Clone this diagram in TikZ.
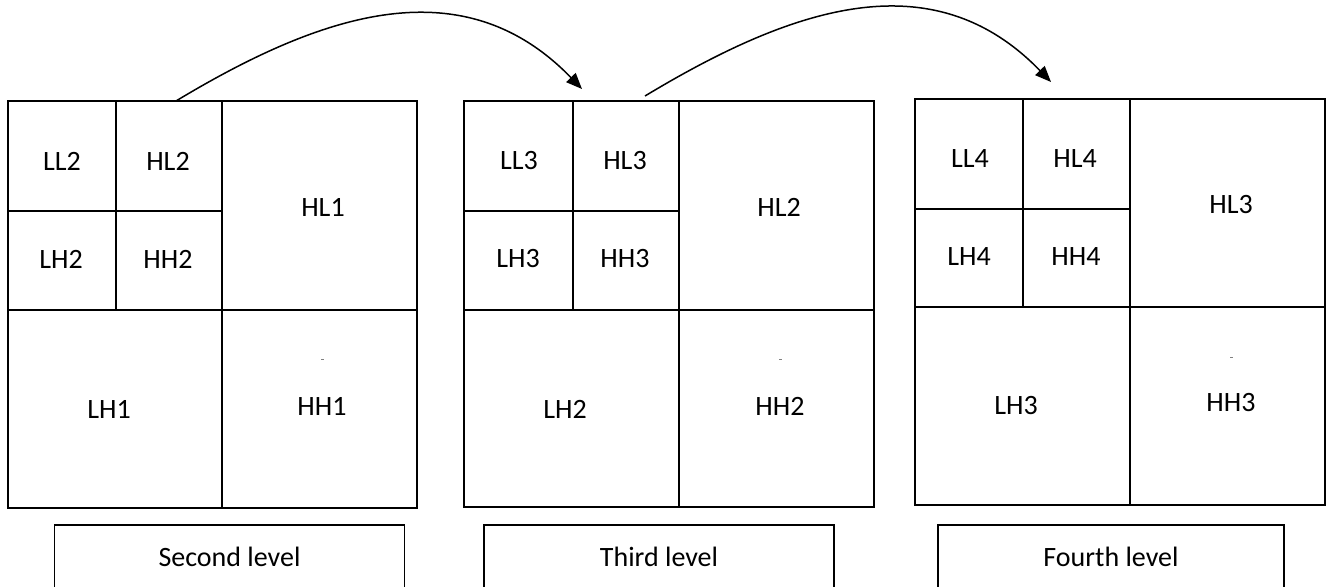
\documentclass[tikz,border=0pt]{standalone}
\usepackage{fontspec}
\setmainfont{Carlito}
\usetikzlibrary{arrows.meta}
\begin{document}
\begin{tikzpicture}[x=1pt,y=-1pt,
  grid/.style={line width=1.7pt},
  cell/.style={font=\fontsize{28}{30}\selectfont, inner sep=0pt},
  lvl/.style={draw, line width=1.7pt, font=\fontsize{28}{30}\selectfont, minimum width=350pt, minimum height=64pt, inner sep=0pt},
  conn/.style={line width=1.5pt, -{Triangle[length=16pt,width=13pt]}},
  speck/.style={gray, line width=0.6pt}]
\useasboundingbox (0,0) rectangle (1335,586);
\clip (0,0) rectangle (1335,586);
% panel 1
\draw[grid] (8,101) rectangle (417,508);
\draw[grid] (222,101) -- (222,508);
\draw[grid] (8,310) -- (417,310);
\draw[grid] (116,101) -- (116,310);
\draw[grid] (8,211) -- (222,211);
% panel 2
\draw[grid] (464,101) rectangle (874,507);
\draw[grid] (679,101) -- (679,507);
\draw[grid] (464,310) -- (874,310);
\draw[grid] (573,101) -- (573,310);
\draw[grid] (464,211) -- (679,211);
% panel 3
\draw[grid] (915,99) rectangle (1325,505);
\draw[grid] (1130,99) -- (1130,505);
\draw[grid] (915,307) -- (1325,307);
\draw[grid] (1023,99) -- (1023,307);
\draw[grid] (915,209) -- (1130,209);
% labels panel 1
\node[cell] (ll2) at (62,161) {LL2};
\node[cell] (hl2) at (168,161) {HL2};
\node[cell] (lh2) at (61,259) {LH2};
\node[cell] (hh2) at (168,259) {HH2};
\node[cell] (hl1) at (323,207) {HL1};
\node[cell] (lh1) at (109,409) {LH1};
\node[cell] (hh1) at (322,406) {HH1};
% labels panel 2
\node[cell] (ll3) at (519,161) {LL3};
\node[cell] (hl3) at (625,161) {HL3};
\node[cell] (lh3) at (518,259) {LH3};
\node[cell] (hh3) at (625,259) {HH3};
\node[cell] (hl2b) at (779,207) {HL2};
\node[cell] (lh2b) at (565,409) {LH2};
\node[cell] (hh2b) at (780,406) {HH2};
% labels panel 3
\node[cell] (ll4) at (970,159) {LL4};
\node[cell] (hl4) at (1075,159) {HL4};
\node[cell] (lh4) at (969,257) {LH4};
\node[cell] (hh4) at (1076,257) {HH4};
\node[cell] (hl3b) at (1231,205) {HL3};
\node[cell] (lh3b) at (1016,406) {LH3};
\node[cell] (hh3b) at (1231,403) {HH3};
% specks
\draw[speck] (321,359) -- (324,359);
\draw[speck] (779,359) -- (782,359);
\draw[speck] (1230,357) -- (1233,357);
% level boxes
\node[lvl] (b1) at (229.5,557) {Second level};
\node[lvl] (b2) at (659,557) {Third level};
\node[lvl, minimum width=346pt] (b3) at (1111,557) {Fourth level};
% arrows
\coordinate (s1) at (176,101);
\coordinate (e1) at (582,89);
\coordinate (s2) at (645,96);
\coordinate (e2) at (1051,82);
\draw[conn] (s1) .. controls (322,13) and (463,-34) .. (e1);
\draw[conn] (s2) .. controls (791,8) and (932,-41) .. (e2);
\end{tikzpicture}
\end{document}
